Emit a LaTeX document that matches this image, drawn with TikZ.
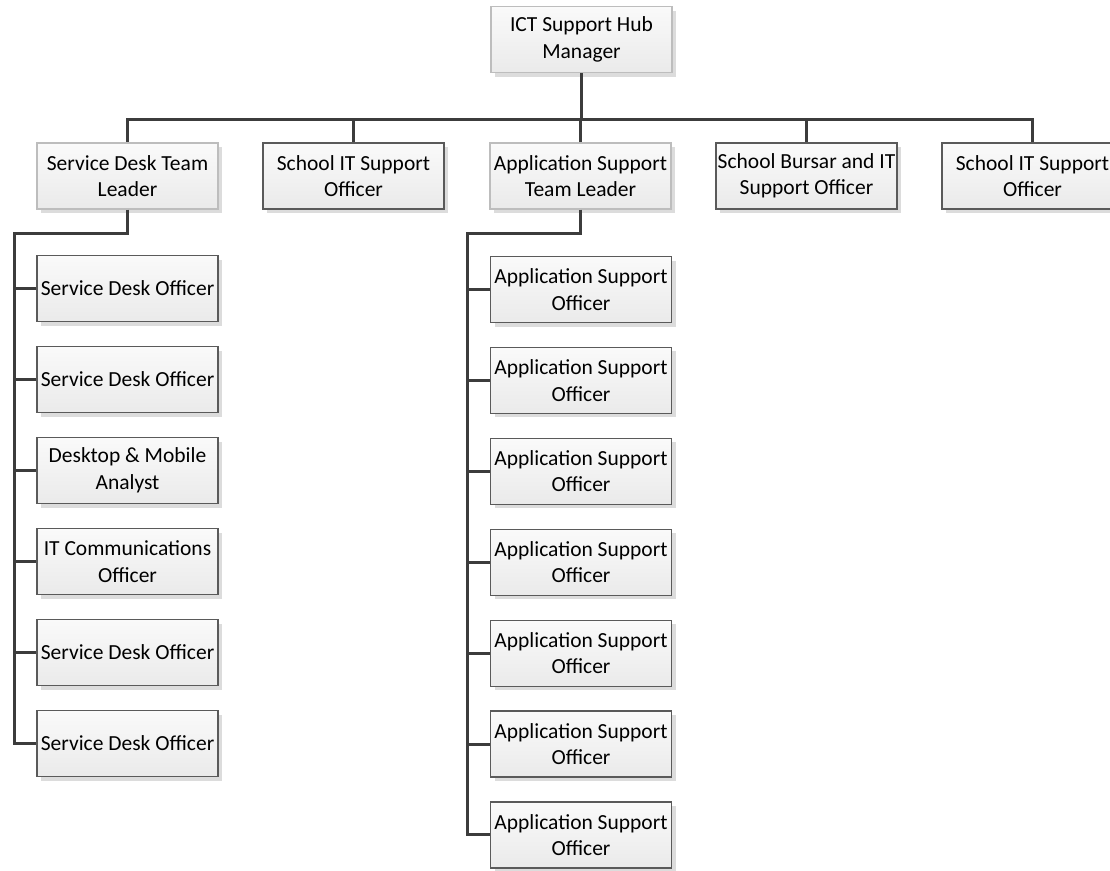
\documentclass[tikz,border=0pt]{standalone}
\usepackage{fontspec}
\setmainfont{Carlito}
\usetikzlibrary{shadows}
\definecolor{linec}{HTML}{3C3C3C}
\definecolor{boxdark}{HTML}{5A5A5A}
\definecolor{boxlight}{HTML}{BDBDBD}
\definecolor{shad}{HTML}{DCDCDC}
\definecolor{filltop}{HTML}{FAFAFA}
\definecolor{fillbot}{HTML}{EAEAEA}
\tikzset{
  orgbox/.style={draw=boxdark, line width=1.2pt, top color=filltop, bottom color=fillbot,
    minimum width=181pt, minimum height=66pt, inner sep=0pt, align=center,
    font=\fontsize{21.5}{26.5}\selectfont,
    drop shadow={shadow xshift=4pt, shadow yshift=-4pt, fill=shad, opacity=1}},
  mgrbox/.style={orgbox, draw=boxlight},
  conn/.style={draw=linec, line width=3pt}
}
\begin{document}
\begin{tikzpicture}[x=1pt,y=1pt]
\useasboundingbox (0,0) rectangle (1110,-870);
\clip (0,0) rectangle (1110,-870);
% top
\node[mgrbox] (mgr) at (581.5,-39.5) {ICT Support Hub\\Manager};
% level 2
\node[mgrbox] (sdl) at (127.5,-176) {Service Desk Team\\Leader};
\node[orgbox] (sit1) at (353.5,-176) {School IT Support\\Officer};
\node[mgrbox] (asl) at (580.5,-176) {Application Support\\Team Leader};
\node[orgbox] (sbo) at (806.5,-176) {School Bursar and IT\\Support Officer};
\node[orgbox] (sit2) at (1032.5,-176) {School IT Support\\Officer};
% service desk children
\node[orgbox] (sd1) at (127.5,-288.5) {Service Desk Officer};
\node[orgbox] (sd2) at (127.5,-379.5) {Service Desk Officer};
\node[orgbox] (sd3) at (127.5,-470.5) {Desktop \& Mobile\\Analyst};
\node[orgbox] (sd4) at (127.5,-561.5) {IT Communications\\Officer};
\node[orgbox] (sd5) at (127.5,-652.5) {Service Desk Officer};
\node[orgbox] (sd6) at (127.5,-743.5) {Service Desk Officer};
% application children
\foreach \i in {0,...,6}{
  \node[orgbox] (as\i) at (581,{-289.5-90.9*\i}) {Application Support\\Officer};
}
% connectors top
\coordinate (bus) at (581.5,-119);
\draw[conn] (mgr.south) -- (bus);
\draw[conn] (bus) -| (sdl.north);
\draw[conn] (bus) -| (sit1.north);
\draw[conn] (bus) -| (asl.north);
\draw[conn] (bus) -| (sbo.north);
\draw[conn] (bus) -| (sit2.north);
% service desk spine
\coordinate (sp1) at (14,-233);
\draw[conn] (sdl.south) |- (sp1) -- (sp1 |- sd6.west) -- (sd6.west);
\foreach \n in {sd1,sd2,sd3,sd4,sd5}{
  \draw[conn] (sp1 |- \n.west) -- (\n.west);
}
% application spine
\coordinate (sp2) at (467,-233);
\draw[conn] (asl.south) |- (sp2) -- (sp2 |- as6.west) -- (as6.west);
\foreach \i in {0,...,5}{
  \draw[conn] (sp2 |- as\i.west) -- (as\i.west);
}
\end{tikzpicture}
\end{document}
